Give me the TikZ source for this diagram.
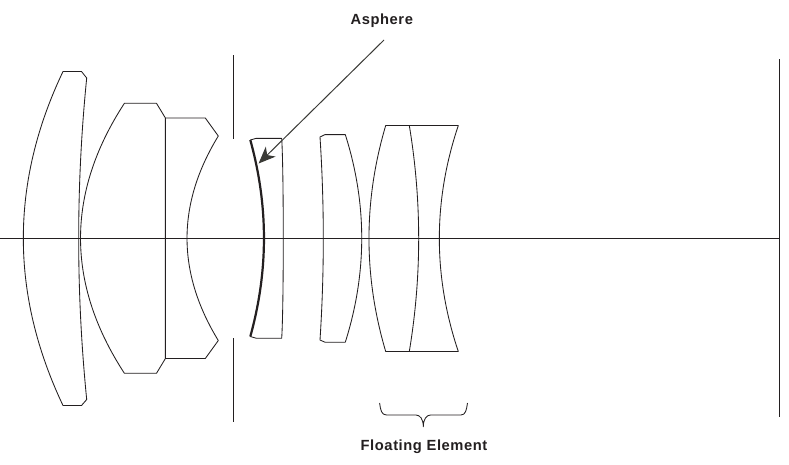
\documentclass[tikz,border=0pt]{standalone}
\usepackage{fontspec}
\setmainfont{Liberation Sans}
\usetikzlibrary{arrows.meta}
\definecolor{ink}{HTML}{231F20}
\definecolor{arrowink}{HTML}{3A3A36}
\tikzset{
  lens/.style={draw=ink,line width=0.85pt,line join=round},
  thin line/.style={draw=ink,line width=0.9pt},
  asphere/.style={draw=ink,line width=2.2pt},
  leader/.style={draw=arrowink,line width=1pt,-{Stealth[length=17pt,width=14pt,inset=5pt]}},
  caption/.style={font=\bfseries\fontsize{14.7}{16}\selectfont,text=ink,inner sep=0pt,anchor=base}
}
\begin{document}
\begin{tikzpicture}[x=1pt,y=-1pt]
\useasboundingbox[fill=white] (0,0) rectangle (789,464);
% axis, stops, image plane
\draw[thin line] (0,238.5) -- (779.5,238.5);
\draw[thin line] (779.5,59) -- (779.5,417);
\draw[thin line] (233.3,55) -- (233.3,138.5);
\draw[thin line] (233.3,338) -- (233.3,421.5);
% element 1
\draw[lens] (63,71.5) .. controls (10.1,182.5) and (10.1,294) .. (63,405.5)
  -- (81.5,405.5) -- (86.7,399.5) .. controls (76,292) and (76,185) .. (86.7,78)
  -- (81.5,71.5) -- cycle;
% doublet
\draw[lens] (124.4,103.3) .. controls (65.9,193) and (65.9,283.5) .. (124.4,373.3)
  -- (156.5,373.3) -- (165.4,358.5) -- (165.4,118) -- (156.5,103.3) -- cycle;
\draw[lens] (165.4,118) -- (205.3,118) -- (218.3,136)
  .. controls (176.6,204.2) and (176.6,272.3) .. (218.3,340.5)
  -- (205.3,358.5) -- (165.4,358.5);
% aspheric element
\draw[lens] (250.3,140) -- (256,138.4) -- (281.7,138.4)
  .. controls (283.8,172) and (283.8,305) .. (281.7,338.3)
  -- (256.5,338.3) -- (250.3,336.5);
\draw[asphere] (250.3,140) .. controls (268.5,205.5) and (268.5,271) .. (250.3,336.5);
% element 5
\draw[lens] (320,137) -- (325,134.6) -- (345.3,134.6)
  .. controls (367.2,203.7) and (367.2,272.8) .. (345.3,342.2)
  -- (325,342.2) -- (320,340) .. controls (324.4,272) and (324.4,205) .. cycle;
% floating doublet
\draw[lens] (385.7,125.5) .. controls (363.4,200.8) and (363.4,276.2) .. (385.7,351.5)
  -- (458.3,351.5) .. controls (433,276.2) and (433,200.8) .. (458.3,125.5) -- cycle;
\draw[lens] (409.3,125.5) .. controls (421.8,200.8) and (421.8,276.2) .. (409.3,351.5);
% brace
\draw[lens] (379.6,403) .. controls (380.5,410) and (381.5,415) .. (386.5,415)
  -- (416,415) .. controls (420,415) and (423.3,419) .. (423.3,426.8)
  .. controls (423.3,419) and (426.6,415) .. (430.6,415)
  -- (461,415) .. controls (465.5,415) and (466.5,410) .. (467.5,403);
% labels and leader
\node[caption] (aspherelabel) at (381.8,24) {\addfontfeatures{LetterSpace=4}Asphere};
\node[caption] (floatlabel) at (424,450) {\addfontfeatures{LetterSpace=4}Floating Element};
\coordinate (leadstart) at (384,40);
\coordinate (leadend) at (258.6,163.5);
\draw[leader] (leadstart) -- (leadend);
\end{tikzpicture}
\end{document}
